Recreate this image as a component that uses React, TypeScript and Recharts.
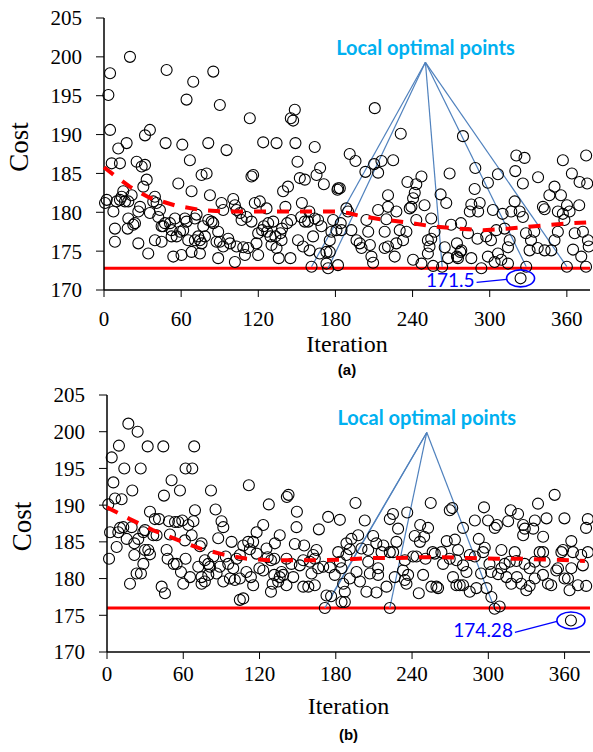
import React from 'react';
import { ScatterChart, Scatter, XAxis, YAxis, ReferenceLine, ReferenceDot } from 'recharts';

const iterTicks = [0, 60, 120, 180, 240, 300, 360];
const costTicks = [170, 175, 180, 185, 190, 195, 200, 205];

// panel (a)
const iterA = [
  2.1, 0.8, 3.4, 4.7, 4.7, 20.2, 6.0, 12.4, 11.1, 17.6, 7.3, 9.8, 13.7, 15.0, 12.4, 18.9, 21.5, 16.3, 8.5, 8.5,
  18.9, 18.4, 22.8, 24.1, 26.7, 28.0, 25.4, 29.3, 31.9, 33.2, 30.6, 31.9, 35.7, 26.7, 34.4, 35.7, 39.6, 38.3, 40.9, 43.5,
  42.2, 44.8, 46.1, 48.7, 47.9, 47.4, 51.3, 52.6, 55.2, 52.6, 39.6, 44.8, 56.5, 53.9, 57.8, 60.3, 60.9, 64.2, 66.8, 68.1,
  62.9, 64.2, 61.6, 59.1, 65.5, 70.7, 69.4, 72.0, 70.7, 73.3, 74.6, 75.9, 68.1, 74.6, 77.2, 78.5, 75.9, 79.8, 81.1, 82.4,
  85.0, 90.1, 81.1, 83.7, 85.0, 88.8, 87.5, 90.1, 88.8, 91.4, 92.7, 95.3,
  113.4, 123.8, 134.2, 114.7, 116.0, 148.4, 145.3, 147.1, 148.9, 150.5, 163.9, 168.1, 165.3, 152.3, 156.2, 139.3, 143.1, 171.0, 181.6, 183.4,
  100.5, 101.8, 103.1, 105.8, 107.0, 110.9, 114.7, 117.3, 121.2, 126.4, 127.7, 131.6, 124.3, 123.0, 126.9, 129.5, 133.3, 137.2, 138.5, 142.4,
  141.1, 145.6, 153.9, 153.3, 159.7, 156.2, 158.8, 163.9, 166.5, 169.1, 150.9, 154.8, 159.9, 162.6, 167.8, 173.0, 175.6, 175.6, 176.9, 178.2,
  184.1, 184.7, 161.4, 173.0, 174.3, 96.6, 98.0, 103.1, 108.3, 112.1, 109.6, 119.9, 101.8, 92.7, 119.9, 118.6, 135.9, 145.0, 130.3, 134.2, 138.1,
  210.6, 230.8, 191.1, 195.6, 210.1, 215.8, 224.9, 203.3, 213.2, 268.8, 279.2, 182.1, 236.0, 246.9, 242.9, 241.7, 220.9, 261.8, 240.4, 239.1,
  249.3, 266.2, 213.2, 220.9, 227.4, 237.8, 188.5, 189.8, 204.1, 219.6, 242.9, 254.5, 270.0, 180.8, 192.4, 196.4, 198.9, 200.3, 206.8, 205.5,
  218.3, 230.0, 235.2, 232.6, 227.4, 218.3, 220.9, 226.1, 208.0, 209.3, 254.5, 251.9, 257.1, 253.2, 251.9, 265.0, 274.5, 267.6, 274.5, 277.1,
  240.4, 246.9, 256.0, 263.0, 182.0, 277.6,
  320.7, 327.1, 356.9, 375.0, 288.8, 319.9, 306.4, 363.9, 298.6, 325.8, 337.6, 369.9, 375.8, 288.3, 350.4, 346.4, 355.4, 285.7, 292.2, 319.4,
  341.4, 342.7, 360.1, 369.6, 284.5, 291.0, 302.5, 310.0, 316.8, 323.3, 325.8, 353.0, 356.9, 362.1, 358.1, 283.1, 290.5, 297.3, 301.0, 305.1,
  311.6, 315.5, 314.2, 328.2, 334.6, 332.1, 337.3, 331.0, 342.7, 347.9, 353.0, 350.4, 366.1, 372.5, 364.8, 371.2, 376.4, 377.0, 277.9, 275.3,
  285.7, 293.5, 298.6, 303.8, 309.0, 314.2, 328.4, 360.0, 374.9, 306.4, 324.0,
];
const costA = [
  181.6, 181.2, 195.1, 197.9, 190.6, 200.0, 186.3, 186.3, 188.2, 188.9, 180.1, 181.4, 182.0, 182.7, 181.6, 181.4, 182.2, 181.4, 177.9, 176.2,
  179.2, 177.9, 178.4, 178.6, 180.1, 180.7, 186.5, 185.9, 186.1, 184.2, 183.3, 189.9, 190.6, 176.0, 174.7, 179.9, 182.0, 181.4, 181.2, 180.3,
  179.4, 178.2, 178.2, 198.3, 188.9, 178.6, 178.6, 177.7, 179.2, 176.9, 176.4, 176.2, 176.9, 174.3, 183.7, 174.5, 188.7, 194.5, 186.7, 182.7,
  179.2, 178.8, 177.7, 177.5, 176.4, 176.4, 196.8, 179.7, 179.2, 176.9, 176.4, 176.0, 174.9, 174.7, 178.2, 176.9, 184.8, 185.0, 188.9, 182.2,
  198.1, 193.8, 179.0, 178.8, 178.6, 177.5, 176.2, 176.2, 174.1, 181.2, 180.3, 188.0,
  192.1, 189.0, 188.9, 184.6, 184.8, 193.2, 192.1, 191.8, 188.9, 186.5, 188.4, 185.7, 184.8, 184.4, 184.2, 182.7, 183.3, 183.6, 182.9, 183.1,
  181.7, 180.9, 180.3, 179.9, 179.0, 179.4, 178.8, 181.2, 181.4, 180.5, 178.6, 178.8, 178.2, 177.7, 177.5, 176.9, 176.9, 177.3, 177.9, 178.6,
  180.7, 179.0, 181.2, 179.4, 180.1, 178.8, 178.8, 179.2, 179.0, 178.2, 176.4, 175.6, 175.1, 176.9, 174.7, 174.9, 174.9, 176.4, 177.5, 179.0,
  178.6, 177.7, 173.0, 173.4, 172.8, 176.6, 176.0, 175.6, 175.5, 175.4, 174.5, 174.5, 173.6, 175.6, 177.3, 176.0, 174.1, 174.1, 175.8, 175.4, 176.4,
  193.4, 190.1, 187.5, 186.6, 186.2, 186.6, 186.7, 185.2, 185.1, 185.0, 189.8, 183.1, 183.9, 184.6, 183.6, 182.5, 182.2, 182.3, 181.8, 180.7,
  180.9, 181.2, 180.3, 180.7, 180.1, 180.5, 180.5, 180.1, 179.0, 179.1, 179.0, 179.2, 178.4, 177.7, 177.7, 176.4, 176.0, 175.4, 175.8, 177.5,
  177.5, 177.7, 177.5, 176.4, 176.0, 175.4, 175.6, 174.3, 174.3, 173.5, 176.6, 176.4, 177.5, 175.6, 174.7, 175.5, 176.0, 174.1, 174.3, 174.9,
  173.9, 173.4, 173.1, 173.0, 173.2, 178.6,
  187.3, 187.0, 186.7, 187.3, 185.7, 185.3, 184.9, 185.0, 183.8, 183.7, 184.5, 183.9, 183.7, 183.0, 183.3, 182.2, 182.2, 181.0, 181.2, 181.4,
  180.7, 180.4, 180.9, 180.9, 180.1, 180.1, 180.3, 179.8, 180.1, 180.1, 179.4, 180.1, 179.8, 180.1, 179.0, 177.3, 176.6, 176.9, 176.4, 177.7,
  177.9, 176.4, 175.5, 177.3, 177.5, 176.4, 175.4, 175.1, 175.1, 175.1, 177.5, 176.4, 177.3, 177.5, 175.2, 174.3, 176.4, 175.6, 175.1, 174.1,
  174.1, 172.8, 174.3, 173.6, 173.9, 173.4, 173.0, 173.0, 173.0, 174.7, 171.5,
];
const trendIterA = [0, 10, 20, 35, 55, 75, 95, 120, 150, 180, 190, 200, 215, 235, 255, 275, 295, 315, 335, 355, 375];
const trendCostA = [185.8, 184.5, 183.3, 181.9, 180.9, 180.3, 180.1, 180.1, 180.1, 180.1, 179.9, 179.5, 179.1, 178.7, 178.2, 177.9, 177.7, 177.9, 178.2, 178.5, 178.7];
const localIterA = [161.4, 174.3, 263.0, 328.4, 360.0];
const localCostA = [173.0, 172.8, 173.0, 173.0, 173.0];

// panel (b)
const iterB = [
  1.0, 2.4, 1.6, 3.7, 5.0, 6.3, 7.6, 9.4, 11.5, 10.2, 8.9, 12.8, 13.6, 16.8, 19.9, 18.1, 15.5, 19.4, 21.5, 21.5,
  23.3, 24.6, 24.1, 26.5, 28.6, 29.9, 28.6, 26.7, 29.9, 32.5, 33.8, 32.0, 33.8, 36.4, 39.0, 37.7, 40.9, 44.3, 44.8, 43.0,
  45.6, 46.9, 47.7, 49.5, 48.7, 50.8, 53.5, 56.1, 54.8, 52.5, 57.4, 58.2, 59.2, 60.0, 61.8, 67.1, 68.6, 61.8, 61.3, 65.3,
  66.6, 64.0, 68.0, 69.2, 73.1, 74.4, 71.8, 74.4, 74.4, 77.0, 79.7, 81.0, 83.6, 81.8, 85.4, 87.5, 90.1, 91.5, 91.5, 77.0,
  79.7, 86.2, 88.8,
  111.6, 127.3, 141.5, 142.8, 149.4, 122.9, 117.7, 135.9, 149.1, 174.0, 183.2, 166.7, 98.0, 107.2, 111.1, 115.0, 112.4, 117.7, 125.5, 132.1,
  147.8, 155.1, 164.8, 162.2, 93.4, 95.4, 101.9, 104.5, 99.3, 96.7, 100.6, 104.5, 109.7, 113.2, 115.0, 119.9, 122.9, 126.4, 129.0, 131.6,
  131.6, 130.3, 129.0, 135.9, 137.3, 138.6, 141.2, 145.1, 146.5, 141.2, 134.7, 151.7, 154.4, 159.6, 163.5, 166.2, 170.1, 175.3, 179.2, 184.5,
  154.4, 158.4, 163.5, 160.9, 104.5, 107.2, 172.7, 176.3, 171.4, 184.5,
  195.5, 202.8, 222.5, 225.0, 236.2, 254.7, 269.7, 271.6, 280.1, 229.0, 246.4, 252.6, 188.4, 192.3, 197.6, 209.4, 227.7, 242.1, 246.2, 249.5,
  267.3, 273.7, 181.9, 191.0, 200.2, 205.5, 211.9, 217.4, 216.0, 222.5, 225.1, 234.3, 240.8, 243.5, 250.6, 256.2, 257.9, 263.1, 264.4, 269.6,
  274.9, 183.2, 188.4, 196.3, 205.5, 206.8, 213.3, 213.3, 226.4, 232.9, 234.3, 236.9, 235.6, 185.8, 187.1, 191.0, 199.0, 204.1, 212.0, 219.9,
  248.7, 255.2, 259.2, 260.5, 272.2, 274.9, 277.5, 280.1, 245.3, 187.1, 222.5,
  352.2, 339.1, 296.6, 317.6, 323.4, 315.6, 299.8, 289.4, 306.8, 305.1, 327.4, 328.7, 336.6, 345.8, 335.3, 359.9, 376.9, 378.3, 343.1, 327.4,
  292.5, 365.3, 276.2, 285.4, 289.4, 297.2, 295.9, 310.3, 320.8, 340.4, 343.1, 357.5, 358.8, 366.6, 373.1, 378.3, 280.1, 282.8, 294.3, 300.9,
  302.2, 310.3, 312.9, 316.8, 322.1, 328.6, 332.5, 336.5, 344.3, 353.5, 354.8, 362.7, 365.3, 374.4, 343.0, 336.5, 322.5, 314.2, 307.7, 285.4,
  290.6, 298.5, 318.1, 325.9, 329.9, 332.5, 346.9, 349.5, 360.0, 363.9, 370.5, 377.0, 302.4, 305.0, 308.9, 365.0,
];
const costB = [
  190.1, 186.3, 182.7, 196.5, 193.1, 190.9, 184.3, 198.1, 190.8, 186.9, 186.3, 187.0, 195.0, 201.1, 192.0, 179.3, 185.4, 187.0, 184.8, 183.2,
  180.7, 185.4, 200.0, 195.0, 186.3, 186.6, 182.0, 180.7, 183.9, 183.9, 183.3, 198.0, 189.1, 185.9, 185.9, 188.1, 188.1, 198.0, 191.3, 178.9,
  178.0, 183.9, 182.7, 186.0, 187.8, 193.4, 187.7, 187.7, 182.0, 182.0, 192.0, 180.9, 187.9, 179.3, 195.0, 195.0, 198.0, 182.7, 185.2, 180.2,
  185.9, 187.3, 187.8, 189.3, 184.4, 184.8, 181.6, 180.2, 179.3, 182.5, 182.0, 181.6, 183.0, 192.0, 189.4, 185.5, 187.8, 187.0, 179.6, 179.6,
  180.5, 180.7, 181.6,
  192.7, 190.1, 191.1, 191.4, 189.1, 187.3, 186.3, 185.9, 187.0, 188.4, 188.0, 186.7, 185.0, 184.5, 185.0, 185.0, 184.0, 183.4, 184.1, 184.8,
  184.7, 184.5, 183.9, 183.2, 183.0, 182.0, 182.7, 183.2, 181.4, 180.0, 179.8, 180.0, 180.9, 180.2, 179.1, 181.4, 181.1, 182.9, 182.5, 182.7,
  180.5, 179.3, 178.2, 180.2, 180.9, 180.5, 182.7, 182.0, 180.2, 179.1, 179.6, 181.8, 182.5, 182.3, 182.7, 181.4, 181.6, 181.5, 180.5, 181.4,
  178.9, 178.9, 179.1, 180.7, 177.1, 177.3, 177.7, 177.6, 176.0, 176.8,
  190.3, 187.9, 188.1, 188.8, 189.0, 190.3, 189.3, 189.6, 186.9, 186.8, 187.3, 186.9, 184.8, 185.4, 185.9, 185.8, 185.0, 185.8, 185.0, 185.7,
  185.1, 185.3, 183.6, 184.0, 184.1, 183.9, 184.8, 184.5, 183.6, 183.6, 183.6, 182.5, 183.0, 183.0, 182.7, 183.6, 183.4, 183.6, 182.0, 182.7,
  182.5, 182.3, 183.2, 180.9, 182.3, 180.7, 181.4, 180.5, 180.2, 181.1, 179.8, 180.5, 179.3, 179.3, 178.2, 180.0, 179.6, 178.2, 178.1, 178.9,
  180.5, 178.9, 178.9, 178.7, 180.2, 179.1, 179.1, 179.1, 178.0, 176.8, 176.0,
  191.4, 190.2, 189.7, 189.3, 188.8, 187.8, 187.9, 187.9, 187.3, 186.9, 187.3, 186.8, 187.9, 188.2, 186.8, 188.2, 186.9, 188.1, 185.7, 185.9,
  185.4, 185.1, 183.9, 183.2, 183.0, 184.2, 183.6, 183.9, 183.6, 183.6, 183.6, 183.6, 183.9, 183.6, 183.2, 183.6, 181.8, 180.9, 180.7, 182.0,
  180.9, 181.4, 182.0, 182.3, 182.4, 182.0, 181.4, 182.3, 182.3, 181.1, 181.4, 180.0, 181.4, 181.8, 180.5, 180.0, 180.2, 180.2, 180.6, 178.2,
  178.7, 178.7, 179.3, 179.3, 178.4, 179.0, 179.3, 179.1, 180.0, 178.4, 179.1, 179.0, 177.5, 175.9, 176.2, 174.3,
];
const trendIterB = [0, 18, 36, 55, 73, 91, 110, 128, 149, 169, 189, 207, 228, 246, 264, 285, 307, 326, 344, 364, 376];
const trendCostB = [189.7, 188.1, 186.6, 185.3, 184.1, 183.3, 182.7, 182.5, 182.5, 182.5, 182.6, 182.8, 182.8, 182.9, 182.9, 182.8, 182.7, 182.7, 182.6, 182.5, 182.4];
const localIterB = [171.4, 176.3, 222.5, 305.0];
const localCostB = [176.0, 177.6, 176.0, 175.9];

const serif = '"Liberation Serif", "Times New Roman", serif';
const callout = 'Lato, "Open Sans", sans-serif';

const Ring = (p: any) => (
  <circle cx={p.cx} cy={p.cy} r={5.5} fill="none" stroke="#000" strokeWidth={1.1} />
);

const Title = (p: any) => (
  <text x={p.cx} y={p.cy - 7} textAnchor="middle" fill="#00b0f0" fontFamily={callout} fontWeight="bold" fontSize={20}>
    Local optimal points
  </text>
);

function Panel(props: any) {
  const { iters, costs, trendIters, trendCosts, best, optIter, optCost, optLabel, optDx, optDy,
    apex, localIters, localCosts, xMax, tag, top, height, left, bottom, tickGap, costDy, tagDy } = props;
  const points = iters.map((x: number, i: number) => ({ x, y: costs[i] }));
  const trend = trendIters.map((x: number, i: number) => ({ x, y: trendCosts[i] }));

  const xTitle = (lp: any) => {
    const vb = lp.viewBox;
    const cx = vb.x + vb.width / 2;
    return (
      <g>
        <text x={cx} y={vb.y + 62} textAnchor="middle" fontFamily={serif} fontSize={24} fill="#000">Iteration</text>
        <text x={cx} y={vb.y + tagDy} textAnchor="middle" fontFamily='"Liberation Sans", Arial, sans-serif' fontWeight="bold" fontSize={15} fill="#000">{tag}</text>
      </g>
    );
  };
  const yTitle = (lp: any) => {
    const vb = lp.viewBox;
    const cx = vb.x - 25;
    const cy = vb.y + vb.height / 2 + costDy;
    return (
      <text x={cx} y={cy} transform={`rotate(-90 ${cx} ${cy})`} textAnchor="middle" dominantBaseline="central"
        fontFamily={serif} fontSize={27} fill="#000">Cost</text>
    );
  };
  const Opt = (p: any) => (
    <g>
      <ellipse cx={p.cx} cy={p.cy} rx={14} ry={8.5} fill="none" stroke="#0000ff" strokeWidth={1.6} />
      <line x1={p.cx + optDx + 2} y1={p.cy + optDy - 5} x2={p.cx - 14} y2={p.cy + 1} stroke="#0000ff" strokeWidth={1.2} />
      <text x={p.cx + optDx} y={p.cy + optDy} textAnchor="end" fill="#0000ff" fontFamily={callout} fontSize={19}>{optLabel}</text>
    </g>
  );

  return (
    <div style={{ position: 'absolute', left: 0, top }}>
      <ScatterChart width={593} height={height} margin={{ top: 18, right: 3, left, bottom }}>
        <XAxis type="number" dataKey="x" domain={[0, xMax]} ticks={iterTicks} height={60}
          tickSize={7} tickMargin={tickGap} axisLine={{ stroke: '#000', strokeWidth: 1.5 }} tickLine={{ stroke: '#000' }}
          tick={{ fill: '#000', fontSize: 21, fontFamily: serif }} label={{ content: xTitle }} />
        <XAxis xAxisId="top" orientation="top" type="number" domain={[0, xMax]} height={0} tick={false} tickLine={false}
          axisLine={{ stroke: '#808080' }} />
        <YAxis type="number" dataKey="y" domain={[170, 205]} ticks={costTicks} width={60}
          tickSize={8} tickMargin={14} axisLine={{ stroke: '#000', strokeWidth: 1.5 }} tickLine={{ stroke: '#000' }}
          tick={{ fill: '#000', fontSize: 21, fontFamily: serif }} label={{ content: yTitle }} />
        <YAxis yAxisId="right" orientation="right" type="number" domain={[170, 205]} width={0} tick={false} tickLine={false}
          axisLine={{ stroke: '#808080' }} />
        <ReferenceLine y={best} stroke="#ff0000" strokeWidth={3} />
        {localIters.map((x: number, i: number) => (
          <ReferenceLine key={i} segment={[{ x: apex[0], y: apex[1] }, { x, y: localCosts[i] }]}
            stroke="#4f81bd" strokeWidth={1.2} />
        ))}
        <Scatter data={points} shape={Ring} isAnimationActive={false} />
        <Scatter data={trend} shape={() => <g />} line={{ stroke: '#ff0000', strokeWidth: 4, strokeDasharray: '12 11' }}
          isAnimationActive={false} />
        <ReferenceDot x={apex[0]} y={apex[1]} r={0} shape={Title} />
        <ReferenceDot x={optIter} y={optCost} shape={Opt} />
      </ScatterChart>
    </div>
  );
}

export default function App() {
  return (
    <div style={{ position: 'absolute', left: 0, top: 0, width: 593, height: 752, background: '#fff' }}>
      <Panel iters={iterA} costs={costA} trendIters={trendIterA} trendCosts={trendCostA} best={172.8}
        optIter={324} optCost={171.5} optLabel="171.5" optDx={-46} optDy={9}
        apex={[250, 199.3]} localIters={localIterA} localCosts={localCostA} xMax={378} tag="(a)"
        top={0} height={385} left={44} bottom={35} tickGap={14} costDy={-7} tagDy={85} />
      <Panel iters={iterB} costs={costB} trendIters={trendIterB} trendCosts={trendCostB} best={176.0}
        optIter={365} optCost={174.3} optLabel="174.28" optDx={-58} optDy={17}
        apex={[251.6, 199.9]} localIters={localIterB} localCosts={localCostB} xMax={380} tag="(b)"
        top={377} height={375} left={47} bottom={40} tickGap={7} costDy={3} tagDy={88} />
    </div>
  );
}
